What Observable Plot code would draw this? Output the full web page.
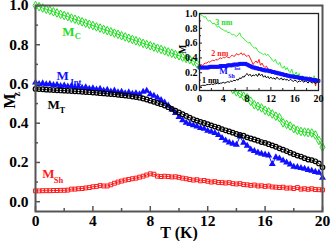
<!DOCTYPE html>
<html><head><meta charset="utf-8">
<script src="https://cdn.jsdelivr.net/npm/d3@7"></script>
<script src="https://cdn.jsdelivr.net/npm/@observablehq/plot@0.6"></script>
<style>body{margin:0;background:#fff} #c{position:relative;width:332px;height:241px} #c svg{position:absolute;left:0;top:0}</style>
</head><body><div id="c"></div>
<script>
// Temperature (K)
const T = [0,0.25,0.5,0.75,1,1.25,1.5,1.75,2,2.25,2.5,2.75,3,3.25,3.5,3.75,4,4.25,4.5,4.75,5,5.25,5.5,5.75,6,6.25,6.5,6.75,7,7.25,7.5,7.75,8,8.25,8.5,8.75,9,9.25,9.5,9.75,10,10.25,10.5,10.75,11,11.25,11.5,11.75,12,12.25,12.5,12.75,13,13.25,13.5,13.75,14,14.25,14.5,14.75,15,15.25,15.5,15.75,16,16.25,16.5,16.75,17,17.25,17.5,17.75,18,18.25,18.5,18.75,19,19.25,19.5,19.75,20];
// Main panel series
const MC = [1.000,0.994,0.987,0.981,0.975,0.968,0.962,0.955,0.949,0.943,0.936,0.930,0.923,0.917,0.910,0.904,0.898,0.891,0.885,0.878,0.872,0.866,0.859,0.853,0.846,0.840,0.833,0.827,0.820,0.814,0.807,0.801,0.795,0.788,0.782,0.776,0.769,0.763,0.757,0.750,0.744,0.737,0.730,0.724,0.716,0.704,0.692,0.680,0.668,0.655,0.642,0.628,0.614,0.600,0.586,0.572,0.560,0.550,0.538,0.530,0.512,0.494,0.486,0.478,0.466,0.458,0.447,0.436,0.428,0.402,0.394,0.386,0.372,0.364,0.358,0.355,0.352,0.350,0.340,0.312,0.278];
const MInt = [0.607,0.600,0.603,0.598,0.600,0.594,0.596,0.590,0.592,0.587,0.590,0.584,0.586,0.580,0.583,0.576,0.578,0.572,0.575,0.566,0.570,0.562,0.566,0.558,0.560,0.552,0.557,0.550,0.553,0.548,0.560,0.565,0.548,0.540,0.530,0.518,0.505,0.490,0.470,0.452,0.432,0.415,0.402,0.396,0.390,0.384,0.376,0.372,0.362,0.356,0.350,0.340,0.325,0.312,0.302,0.296,0.290,0.332,0.300,0.285,0.266,0.258,0.250,0.244,0.240,0.236,0.192,0.226,0.220,0.210,0.200,0.190,0.178,0.176,0.172,0.168,0.162,0.158,0.152,0.148,0.122];
const MT = [0.575,0.574,0.573,0.571,0.570,0.569,0.568,0.567,0.566,0.565,0.564,0.563,0.562,0.560,0.559,0.558,0.556,0.555,0.553,0.552,0.550,0.549,0.547,0.545,0.543,0.541,0.539,0.536,0.533,0.530,0.526,0.521,0.515,0.509,0.503,0.497,0.490,0.482,0.473,0.464,0.455,0.446,0.437,0.428,0.420,0.413,0.407,0.401,0.395,0.389,0.383,0.377,0.370,0.364,0.358,0.352,0.345,0.340,0.336,0.328,0.322,0.317,0.311,0.304,0.300,0.293,0.287,0.280,0.272,0.265,0.258,0.250,0.242,0.235,0.230,0.222,0.215,0.212,0.206,0.195,0.175];
const MSh = [0.055,0.055,0.056,0.056,0.056,0.057,0.057,0.058,0.058,0.059,0.064,0.064,0.066,0.067,0.070,0.072,0.076,0.078,0.082,0.080,0.080,0.086,0.094,0.100,0.105,0.110,0.113,0.117,0.120,0.125,0.130,0.136,0.142,0.140,0.130,0.128,0.130,0.128,0.126,0.127,0.124,0.120,0.117,0.113,0.110,0.112,0.106,0.108,0.104,0.100,0.102,0.098,0.097,0.095,0.097,0.092,0.090,0.092,0.087,0.086,0.083,0.085,0.080,0.081,0.078,0.080,0.075,0.074,0.072,0.074,0.069,0.070,0.067,0.072,0.064,0.066,0.063,0.066,0.062,0.061,0.060];
// Inset series
const In3 = [1.00,0.98,0.97,0.95,0.96,0.92,0.90,0.91,0.88,0.86,0.87,0.84,0.82,0.83,0.80,0.79,0.78,0.76,0.77,0.74,0.75,0.73,0.71,0.72,0.70,0.69,0.71,0.74,0.69,0.67,0.66,0.63,0.62,0.60,0.61,0.57,0.55,0.53,0.54,0.50,0.48,0.47,0.46,0.44,0.46,0.43,0.45,0.42,0.40,0.37,0.35,0.38,0.33,0.31,0.34,0.28,0.26,0.29,0.24,0.27,0.22,0.20,0.25,0.18,0.17,0.21,0.15,0.19,0.13,0.16,0.11,0.14,0.12,0.09,0.15,0.10,0.07,0.16,0.11,0.08,0.11];
const In2 = [0.30,0.31,0.30,0.32,0.33,0.33,0.35,0.34,0.36,0.37,0.36,0.38,0.37,0.39,0.40,0.39,0.41,0.40,0.42,0.41,0.40,0.42,0.44,0.42,0.43,0.46,0.44,0.45,0.47,0.44,0.46,0.43,0.42,0.44,0.40,0.36,0.31,0.34,0.36,0.33,0.38,0.30,0.33,0.29,0.27,0.29,0.25,0.23,0.24,0.21,0.22,0.19,0.20,0.18,0.19,0.17,0.18,0.16,0.17,0.15,0.16,0.14,0.15,0.13,0.14,0.12,0.13,0.11,0.12,0.10,0.12,0.11,0.13,0.10,0.12,0.14,0.11,0.13,0.02,0.12,0.10];
const In1 = [0.02,0.02,0.03,0.03,0.03,0.04,0.04,0.04,0.05,0.04,0.05,0.05,0.06,0.05,0.06,0.06,0.07,0.06,0.07,0.08,0.07,0.09,0.08,0.10,0.09,0.11,0.10,0.13,0.12,0.15,0.14,0.17,0.19,0.16,0.18,0.15,0.17,0.16,0.18,0.15,0.19,0.16,0.18,0.14,0.16,0.13,0.15,0.12,0.14,0.12,0.13,0.11,0.14,0.12,0.11,0.13,0.10,0.12,0.10,0.11,0.09,0.11,0.10,0.08,0.10,0.09,0.07,0.09,0.08,0.10,0.07,0.09,0.08,0.06,0.09,0.07,0.06,0.08,0.05,0.09,0.08];
const InSh = [0.27,0.27,0.27,0.27,0.27,0.27,0.27,0.28,0.28,0.28,0.28,0.28,0.28,0.28,0.29,0.29,0.29,0.29,0.29,0.30,0.30,0.30,0.30,0.31,0.31,0.31,0.31,0.32,0.32,0.32,0.32,0.32,0.31,0.30,0.29,0.28,0.27,0.27,0.26,0.26,0.25,0.25,0.24,0.24,0.23,0.23,0.23,0.22,0.22,0.21,0.21,0.20,0.20,0.19,0.19,0.18,0.18,0.17,0.17,0.16,0.16,0.15,0.15,0.15,0.14,0.14,0.14,0.13,0.13,0.13,0.12,0.12,0.12,0.11,0.11,0.11,0.10,0.10,0.10,0.09,0.09];
// Ticks
const xMajor = [0,4,8,12,16,20];
const xMinor = [2,6,10,14,18];
const yMajor = [0,0.2,0.4,0.6,0.8,1.0];
const yMinor = [0.1,0.3,0.5,0.7,0.9];

const font = "Liberation Serif";
const GREEN = "#22dd22", BLUE = "#1010ff", RED = "#ff1a1a", BLACK = "#000";
const rows = ys => T.map((t, i) => ({t, v: ys[i]}));

// Annotation labels: M with subscript
const mainLabels = [
  {t: 1.86, v: 0.864, sub: "C", color: GREEN, dx: 12.5, dy: 4.5},
  {t: 1.46, v: 0.640, sub: "Int", color: BLUE, dx: 14, dy: 6},
  {t: 0.84, v: 0.495, sub: "T", color: BLACK, dx: 12, dy: 6},
  {t: 0.47, v: 0.142, sub: "Sh", color: RED, dx: 11.5, dy: 6}
];
const insetLabels = [
  {t: 2.64, v: 0.88, text: "3 nm", color: GREEN},
  {t: 1.97, v: 0.46, text: "2 nm", color: RED},
  {t: 0.40, v: 0.09, text: "1 nm", color: BLACK}
];

const txt = {fontFamily: font, fontWeight: "bold"};
const subMarks = mainLabels.map(l => Plot.text([l], {x: "t", y: "v", text: "sub", textAnchor: "start", dx: l.dx, dy: l.dy, fill: l.color, fontSize: 8.5, ...txt}));

const main = Plot.plot({
  width: 332, height: 241,
  marginLeft: 35, marginRight: 10, marginTop: 5, marginBottom: 30,
  x: {domain: [0, 20], label: null},
  y: {domain: [-0.05, 1.0], label: null},
  style: {background: "white", fontFamily: font},
  marks: [
    Plot.line(rows(MSh), {x: "t", y: "v", stroke: RED, strokeWidth: 1}),
    Plot.dot(rows(MSh), {x: "t", y: "v", symbol: "square", r: 2.2, stroke: RED, strokeWidth: 1, fill: "none"}),
    Plot.line(rows(MInt), {x: "t", y: "v", stroke: BLUE, strokeWidth: 1}),
    Plot.dot(rows(MInt), {x: "t", y: "v", symbol: "triangle", r: 2.6, fill: BLUE, stroke: "none"}),
    Plot.line(rows(MT), {x: "t", y: "v", stroke: BLACK, strokeWidth: 1}),
    Plot.dot(rows(MT), {x: "t", y: "v", symbol: "circle", r: 2.3, stroke: BLACK, strokeWidth: 1.2, fill: "none"}),
    Plot.line(rows(MC), {x: "t", y: "v", stroke: GREEN, strokeWidth: 1}),
    Plot.dot(rows(MC), {x: "t", y: "v", symbol: "diamond", r: 2.6, stroke: GREEN, strokeWidth: 1, fill: "none"}),
    Plot.frame({stroke: "#555", strokeWidth: 2}),
    // tick labels
    Plot.axisX({ticks: xMajor, tickSize: 0, tickPadding: 3, label: null, tickFormat: d => String(d), fontSize: 15.5, ...txt, fill: "black"}),
    Plot.axisY({ticks: yMajor, tickSize: 0, tickPadding: 7, label: null, tickFormat: d3.format(".1f"), fontSize: 15.5, ...txt, fill: "black"}),
    // inward ticks
    Plot.axisX({ticks: xMajor, tickSize: -5, tickFormat: () => "", label: null, stroke: "#555", strokeWidth: 1.5}),
    Plot.axisX({ticks: xMinor, tickSize: -3, tickFormat: () => "", label: null, stroke: "#555", strokeWidth: 1.5}),
    Plot.axisY({ticks: yMajor, tickSize: -5, tickFormat: () => "", label: null, stroke: "#555", strokeWidth: 1.5}),
    Plot.axisY({ticks: yMinor, tickSize: -3, tickFormat: () => "", label: null, stroke: "#555", strokeWidth: 1.5}),
    Plot.text(["T (K)"], {frameAnchor: "bottom", lineAnchor: "middle", dy: 21, text: d => d, fontSize: 16, ...txt, fill: "black"}),
    Plot.text(["M"], {frameAnchor: "left", dx: -26, rotate: -90, text: d => d, fontSize: 16, ...txt, fill: "black"}),
    Plot.text(["z"], {frameAnchor: "left", dx: -19, dy: -12, rotate: -90, text: d => d, fontSize: 10, ...txt, fill: "black"}),
    Plot.text(mainLabels, {x: "t", y: "v", text: () => "M", textAnchor: "start", fill: "color", fontSize: 13, ...txt}),
    ...subMarks
  ]
});

const inset = Plot.plot({
  width: 332, height: 241,
  marginLeft: 199, marginRight: 14, marginTop: 13, marginBottom: 151,
  x: {domain: [0, 20], label: null},
  y: {domain: [-0.04, 1.0], label: null},
  style: {background: "transparent", fontFamily: font},
  marks: [
    Plot.frame({fill: "white", stroke: "none"}),
    Plot.line(rows(In3), {x: "t", y: "v", stroke: "#33ee33", strokeWidth: 1}),
    Plot.line(rows(In2), {x: "t", y: "v", stroke: RED, strokeWidth: 1}),
    Plot.line(rows(In1), {x: "t", y: "v", stroke: BLACK, strokeWidth: 1}),
    Plot.line(rows(InSh), {x: "t", y: "v", stroke: BLUE, strokeWidth: 2.5}),
    Plot.dot(rows(InSh), {x: "t", y: "v", symbol: "square", r: 1.6, stroke: BLUE, strokeWidth: 1, fill: "none"}),
    Plot.frame({stroke: "#222", strokeWidth: 1.3}),
    Plot.axisX({ticks: xMajor, tickSize: 0, tickPadding: 4, label: null, tickFormat: d => String(d), fontSize: 10, ...txt, fill: "black"}),
    Plot.axisY({ticks: yMajor, tickSize: 0, tickPadding: 2, label: null, tickFormat: d3.format(".1f"), fontSize: 10, ...txt, fill: "black"}),
    Plot.axisX({ticks: xMajor, tickSize: -3, tickFormat: () => "", label: null, stroke: "#222"}),
    Plot.axisX({ticks: xMinor, tickSize: -2, tickFormat: () => "", label: null, stroke: "#222"}),
    Plot.axisY({ticks: yMajor, tickSize: -3, tickFormat: () => "", label: null, stroke: "#222"}),
    Plot.axisY({ticks: yMinor, tickSize: -2, tickFormat: () => "", label: null, stroke: "#222"}),
    Plot.text(["M"], {frameAnchor: "left", dx: -17, dy: 2, rotate: -90, text: d => d, fontSize: 10, ...txt, fill: "black"}),
    Plot.text(["z"], {frameAnchor: "left", dx: -13, dy: -5, rotate: -90, text: d => d, fontSize: 7, ...txt, fill: "black"}),
    Plot.text(insetLabels, {x: "t", y: "v", text: "text", textAnchor: "start", fill: "color", fontSize: 8, ...txt}),
    Plot.text(["M"], {x: () => 3.3, y: () => 0.22, textAnchor: "start", text: d => d, fill: BLUE, fontSize: 9, ...txt}),
    Plot.text(["Sh"], {x: () => 3.3, y: () => 0.22, dx: 9, dy: 5, textAnchor: "start", text: d => d, fill: BLUE, fontSize: 6, ...txt}),
    Plot.text(["Int"], {x: () => 3.3, y: () => 0.22, dx: 15, dy: -3, textAnchor: "start", text: d => d, fill: BLUE, fontSize: 5, ...txt})
  ]
});

const c = document.getElementById("c");
c.appendChild(main);
c.appendChild(inset);
</script>
</body></html>
